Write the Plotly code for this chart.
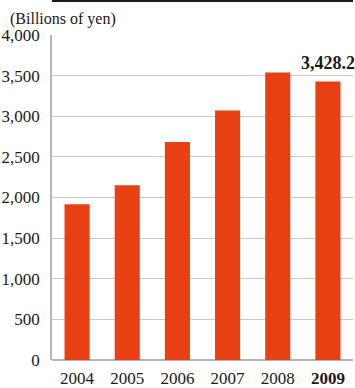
import plotly.graph_objects as go

years = ["2004", "2005", "2006", "2007", "2008", "2009"]
values = [1916, 2152, 2684, 3070, 3537, 3428.2]
tick_text = ["2004", "2005", "2006", "2007", "2008", "<b>2009</b>"]
y_ticks = [0, 500, 1000, 1500, 2000, 2500, 3000, 3500, 4000]
y_tick_text = ["0", "500", "1,000", "1,500", "2,000", "2,500", "3,000", "3,500", "4,000"]
highlight_label = "3,428.2"

FONT = "Liberation Serif"
W, H = 355, 388
L, R, T, B = 52, 2, 35, 28

fig = go.Figure()
fig.add_trace(go.Bar(
    x=years, y=values,
    marker=dict(color="#e84012", line=dict(width=0)),
    hoverinfo="skip",
))

# label above the latest bar (category axes take the category index)
fig.add_annotation(
    x=len(years) - 1, y=values[-1], xref="x", yref="y",
    text="<b>" + highlight_label + "</b>", showarrow=False,
    yanchor="bottom", yshift=6, xanchor="center",
    font=dict(family=FONT, size=18, color="#231815"),
)

# dark strip at the top
fig.add_shape(type="rect", xref="paper", yref="paper",
              x0=0, x1=1, y0=1 + 33 / (H - T - B), y1=1 + 35.5 / (H - T - B),
              fillcolor="#231815", line=dict(width=0), layer="above")

fig.update_layout(
    width=W, height=H,
    margin=dict(l=L, r=R, t=T, b=B, pad=0, autoexpand=False),
    paper_bgcolor="white", plot_bgcolor="white",
    showlegend=False,
    bargap=0.5,
    font=dict(family=FONT, size=16, color="#231815"),
    title=dict(text="(Billions of yen)", x=10 / W, xanchor="left",
               y=1 - 18 / H, yanchor="middle", xref="container", yref="container",
               font=dict(family=FONT, size=16, color="#231815")),
)
fig.update_xaxes(
    type="category", range=[-0.5, 5.5],
    tickmode="array", tickvals=years, ticktext=tick_text, tickangle=0,
    showgrid=False, showline=False, ticks="",
    zeroline=False, ticklabelstandoff=6,
    tickfont=dict(family=FONT, size=17, color="#231815"),
)
fig.update_yaxes(
    range=[0, 4000], tickmode="array", tickvals=y_ticks, ticktext=y_tick_text,
    showgrid=True, gridcolor="#c8c8c8", gridwidth=1.2,
    showline=True, linecolor="#b4b4b4", linewidth=1.5,
    zeroline=True, zerolinecolor="#b4b4b4", zerolinewidth=2,
    ticks="", ticklabelstandoff=7,
    tickfont=dict(family=FONT, size=17, color="#231815"),
)

fig.write_html(
    "out.html",
    config={"displayModeBar": False},
    post_script="document.body.style.margin='0';document.body.style.overflow='hidden';",
)
